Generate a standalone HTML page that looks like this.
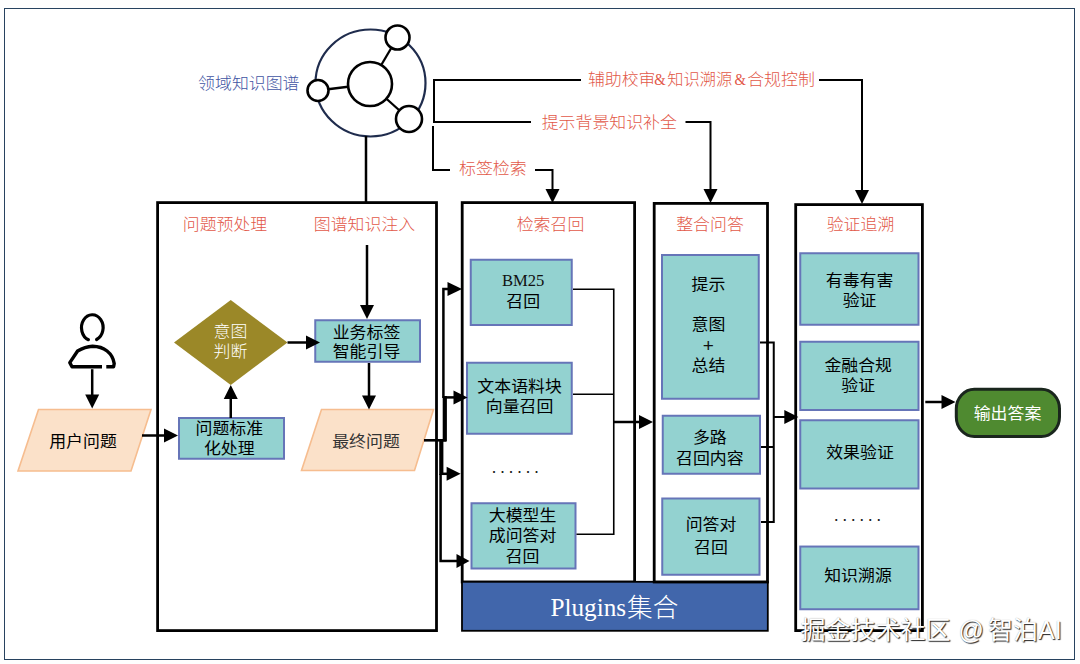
<!DOCTYPE html>
<html lang="zh-CN">
<head>
<meta charset="utf-8">
<title>知识图谱增强问答流程</title>
<style>
html,body{margin:0;padding:0;background:#fff;}
body{width:1080px;height:664px;overflow:hidden;}
svg{display:block;}
.t{font-family:"Liberation Sans", "Noto Sans CJK SC", sans-serif;font-weight:400;}
.tl{font-family:"Liberation Sans", "Noto Sans CJK SC", sans-serif;font-weight:300;}
.s{font-family:"Liberation Serif", "Noto Serif CJK SC", serif;font-weight:400;}
.p{font-family:"Liberation Sans",sans-serif;font-weight:400;}
.d{font-family:"Liberation Sans",sans-serif;font-weight:400;}
.w{font-family:"Liberation Sans", "Noto Sans CJK SC", sans-serif;font-weight:400;font-size:25px;line-height:30px;color:#fff;position:absolute;top:615px;white-space:nowrap;text-shadow:1px 1px 1px rgba(0,0,0,.85),0 0 1px rgba(0,0,0,.35);}
#stage{position:relative;width:1080px;height:664px;}
</style>
</head>
<body>
<div id="stage">
<svg width="1080" height="664" viewBox="0 0 1080 664">
<rect x="0" y="0" width="1080" height="664" fill="#fefefe"/>
<rect x="4.5" y="8.5" width="1070" height="651" fill="#fff" stroke="#27425f" stroke-width="1"/>
<ellipse cx="370.5" cy="83" rx="55" ry="53.5" fill="none" stroke="#1f2c4d" stroke-width="2.2"/>
<line x1="370" y1="84" x2="397.5" y2="37.5" stroke="#000" stroke-width="2.3"/>
<line x1="370" y1="84" x2="318" y2="90.5" stroke="#000" stroke-width="2.3"/>
<line x1="370" y1="84" x2="409" y2="119" stroke="#000" stroke-width="2.3"/>
<circle cx="370" cy="84" r="22" fill="#fff" stroke="#000" stroke-width="2.6"/>
<circle cx="397.5" cy="37.5" r="12" fill="#fff" stroke="#000" stroke-width="2.6"/>
<circle cx="318" cy="90.5" r="10.5" fill="#fff" stroke="#000" stroke-width="2.6"/>
<circle cx="409" cy="119" r="13" fill="#fff" stroke="#000" stroke-width="2.6"/>
<text transform="translate(299.5,88.85) scale(1.07,1)" class="tl" fill="#3f55a3" font-size="15.8" text-anchor="end">领域知识图谱</text>
<polyline points="366,136 366,203" fill="none" stroke="#000" stroke-width="2.5" stroke-linejoin="miter"/>
<polyline points="581,80 434,80 434,122 531,122" fill="none" stroke="#000" stroke-width="2" stroke-linejoin="miter"/>
<polyline points="433,126 433,170 450,170" fill="none" stroke="#000" stroke-width="2" stroke-linejoin="miter"/>
<text transform="translate(459,174.45) scale(1.07,1)" class="tl" fill="#e25848" font-size="15.8" text-anchor="start">标签检索</text>
<text transform="translate(541.7,127.75) scale(1.07,1)" class="tl" fill="#e25848" font-size="15.8" text-anchor="start">提示背景知识补全</text>
<text transform="translate(587.9,85.45) scale(1.07,1)" class="tl" fill="#e25848" font-size="15.8" text-anchor="start">辅助校审</text>
<text transform="translate(654.2,85.4) scale(0.84,1)" class="s" fill="#e25848" font-size="17.5">&amp;</text>
<text transform="translate(667.3,85.45) scale(1.03,1)" class="tl" fill="#e25848" font-size="15.8" text-anchor="start">知识溯源</text>
<text transform="translate(734.4,85.4) scale(0.84,1)" class="s" fill="#e25848" font-size="17.5">&amp;</text>
<text transform="translate(747.2,85.45) scale(1.07,1)" class="tl" fill="#e25848" font-size="15.8" text-anchor="start">合规控制</text>
<path d="M88.4,339.7 A10.8,12.9 0 1 1 96.6,339.5" fill="none" stroke="#000" stroke-width="3.2" stroke-linecap="round"/>
<path d="M102,366.8 L72,366.8 L69.8,362.6 L77.6,351 Q85,346.6 92.6,346.2 C104,346.4 112.6,353 114.2,363.5 L113.6,366.8 L106.3,366.8" fill="none" stroke="#000" stroke-width="3.4" stroke-linejoin="round"/>
<polygon points="38.5,409.5 151,409.5 131,471 18,471" fill="#fbe1c9" stroke="#f6bd8f" stroke-width="1.6"/>
<text transform="translate(83,447.35) scale(1.07,1)" class="t" fill="#000" font-size="15.8" text-anchor="middle">用户问题</text>
<rect x="157.6" y="202.6" width="278.9" height="428" fill="none" stroke="#000" stroke-width="2.8"/>
<text transform="translate(225,230.35) scale(1.07,1)" class="tl" fill="#e25848" font-size="15.8" text-anchor="middle">问题预处理</text>
<text transform="translate(364.5,230.35) scale(1.07,1)" class="tl" fill="#e25848" font-size="15.8" text-anchor="middle">图谱知识注入</text>
<polygon points="230.75,300 287.5,342.5 230.75,385 174,342.5" fill="#9b8828"/>
<text transform="translate(230.5,336.85) scale(1.07,1)" class="tl" fill="#fff" font-size="15.8" text-anchor="middle">意图</text>
<text transform="translate(230.5,357.35) scale(1.07,1)" class="tl" fill="#fff" font-size="15.8" text-anchor="middle">判断</text>
<rect x="179.0" y="418.0" width="105.0" height="40.75" fill="#93d2d0" stroke="#6675b8" stroke-width="2"/>
<text transform="translate(229.3,433.85) scale(1.07,1)" class="t" fill="#000" font-size="15.8" text-anchor="middle">问题标准</text>
<text transform="translate(229.3,454.05) scale(1.07,1)" class="t" fill="#000" font-size="15.8" text-anchor="middle">化处理</text>
<rect x="315.25" y="320.25" width="104.75" height="41.5" fill="#93d2d0" stroke="#6675b8" stroke-width="2"/>
<text transform="translate(366.5,338.05) scale(1.07,1)" class="t" fill="#000" font-size="15.8" text-anchor="middle">业务标签</text>
<text transform="translate(366.5,357.45) scale(1.07,1)" class="t" fill="#000" font-size="15.8" text-anchor="middle">智能引导</text>
<polygon points="321.5,409.5 433.5,409.5 414.5,470.5 301.5,470.5" fill="#fbe1c9" stroke="#f6bd8f" stroke-width="1.6"/>
<text transform="translate(366,447.35) scale(1.07,1)" class="t" fill="#333" font-size="15.8" text-anchor="middle">最终问题</text>
<polyline points="424,440.3 446,440.3" fill="none" stroke="#000" stroke-width="2.6" stroke-linejoin="miter"/>
<polyline points="444.8,441.5 444.8,396" fill="none" stroke="#000" stroke-width="4.2" stroke-linejoin="miter"/>
<polyline points="441.3,439 441.3,475" fill="none" stroke="#000" stroke-width="4.2" stroke-linejoin="miter"/>
<rect x="462.2" y="202.6" width="172.4" height="379.4" fill="none" stroke="#000" stroke-width="2.8"/>
<text transform="translate(550.5,230.35) scale(1.07,1)" class="tl" fill="#e25848" font-size="15.8" text-anchor="middle">检索召回</text>
<rect x="470.75" y="259.75" width="101.0" height="65.25" fill="#93d2d0" stroke="#6675b8" stroke-width="2"/>
<text x="523.2" y="286.1" class="s" fill="#111" font-size="16.6" text-anchor="middle">BM25</text>
<text transform="translate(523.2,307.05) scale(1.07,1)" class="t" fill="#000" font-size="15.8" text-anchor="middle">召回</text>
<rect x="467.0" y="362.75" width="104.75" height="71.0" fill="#93d2d0" stroke="#6675b8" stroke-width="2"/>
<text transform="translate(519.6,392.15) scale(1.07,1)" class="t" fill="#000" font-size="15.8" text-anchor="middle">文本语料块</text>
<text transform="translate(519.6,412.15) scale(1.07,1)" class="t" fill="#000" font-size="15.8" text-anchor="middle">向量召回</text>
<text x="491.5" y="473" class="d" fill="#222" font-size="18" letter-spacing="3.5">......</text>
<rect x="471.5" y="503.25" width="104.0" height="65.25" fill="#93d2d0" stroke="#6675b8" stroke-width="2"/>
<text transform="translate(522.6,520.85) scale(1.07,1)" class="t" fill="#000" font-size="15.8" text-anchor="middle">大模型生</text>
<text transform="translate(522.6,541.35) scale(1.07,1)" class="t" fill="#000" font-size="15.8" text-anchor="middle">成问答对</text>
<text transform="translate(522.6,562.15) scale(1.07,1)" class="t" fill="#000" font-size="15.8" text-anchor="middle">召回</text>
<polyline points="573,289.3 613.75,289.3 613.75,534.3 576.5,534.3" fill="none" stroke="#000" stroke-width="1.6" stroke-linejoin="miter"/>
<polyline points="573,394.3 613.75,394.3" fill="none" stroke="#000" stroke-width="1.6" stroke-linejoin="miter"/>
<rect x="462" y="581.8" width="305.8" height="49" fill="#4166ab" stroke="#000" stroke-width="1.8"/>
<text x="550.5" y="616.2" class="s" fill="#fff" font-size="25.2" text-anchor="start">Plugins<tspan class="tl" font-size="25.6" dx="1" dy="0.8">集合</tspan></text>
<rect x="654.2" y="203.4" width="113.3" height="378.6" fill="none" stroke="#000" stroke-width="2.8"/>
<text transform="translate(710,230.35) scale(1.07,1)" class="tl" fill="#e25848" font-size="15.8" text-anchor="middle">整合问答</text>
<rect x="662.0" y="255.0" width="96.75" height="143.75" fill="#93d2d0" stroke="#6675b8" stroke-width="2"/>
<text transform="translate(708.4,290.05) scale(1.07,1)" class="t" fill="#000" font-size="15.8" text-anchor="middle">提示</text>
<text transform="translate(708.4,330.05) scale(1.07,1)" class="t" fill="#000" font-size="15.8" text-anchor="middle">意图</text>
<text x="708.4" y="351.7" class="p" fill="#111" font-size="19" text-anchor="middle">+</text>
<text transform="translate(708.4,371.05) scale(1.07,1)" class="t" fill="#000" font-size="15.8" text-anchor="middle">总结</text>
<rect x="662.75" y="415.75" width="97.25" height="58.0" fill="#93d2d0" stroke="#6675b8" stroke-width="2"/>
<text transform="translate(709.8,443.45) scale(1.07,1)" class="t" fill="#000" font-size="15.8" text-anchor="middle">多路</text>
<text transform="translate(709.8,464.25) scale(1.07,1)" class="t" fill="#000" font-size="15.8" text-anchor="middle">召回内容</text>
<rect x="662.25" y="498.5" width="97.25" height="76.25" fill="#93d2d0" stroke="#6675b8" stroke-width="2"/>
<text transform="translate(711,530.45) scale(1.07,1)" class="t" fill="#000" font-size="15.8" text-anchor="middle">问答对</text>
<text transform="translate(711,552.85) scale(1.07,1)" class="t" fill="#000" font-size="15.8" text-anchor="middle">召回</text>
<polyline points="760,342.5 773.75,342.5 773.75,522 761,522" fill="none" stroke="#000" stroke-width="2" stroke-linejoin="miter"/>
<polyline points="761,447 773.75,447" fill="none" stroke="#000" stroke-width="2" stroke-linejoin="miter"/>
<rect x="795.7" y="204.6" width="126.7" height="426" fill="none" stroke="#000" stroke-width="2.8"/>
<text transform="translate(860.5,230.35) scale(1.07,1)" class="tl" fill="#e25848" font-size="15.8" text-anchor="middle">验证追溯</text>
<rect x="800.25" y="253.25" width="118.25" height="71.5" fill="#93d2d0" stroke="#6675b8" stroke-width="2"/>
<text transform="translate(859.6,286.45) scale(1.07,1)" class="t" fill="#000" font-size="15.8" text-anchor="middle">有毒有害</text>
<text transform="translate(859.6,306.05) scale(1.07,1)" class="t" fill="#000" font-size="15.8" text-anchor="middle">验证</text>
<rect x="800.25" y="341.75" width="118.25" height="68.25" fill="#93d2d0" stroke="#6675b8" stroke-width="2"/>
<text transform="translate(858.2,371.05) scale(1.07,1)" class="t" fill="#000" font-size="15.8" text-anchor="middle">金融合规</text>
<text transform="translate(858.2,391.05) scale(1.07,1)" class="t" fill="#000" font-size="15.8" text-anchor="middle">验证</text>
<rect x="800.25" y="420.25" width="118.25" height="68.25" fill="#93d2d0" stroke="#6675b8" stroke-width="2"/>
<text transform="translate(860,457.65) scale(1.07,1)" class="t" fill="#000" font-size="15.8" text-anchor="middle">效果验证</text>
<text x="833.7" y="521" class="d" fill="#222" font-size="18" letter-spacing="3.5">......</text>
<rect x="800.25" y="546.55" width="118.25" height="62.700000000000045" fill="#93d2d0" stroke="#6675b8" stroke-width="2"/>
<text transform="translate(858,581.05) scale(1.07,1)" class="t" fill="#000" font-size="15.8" text-anchor="middle">知识溯源</text>
<rect x="956.3" y="389.3" width="103.2" height="47.2" rx="18" ry="19.5" fill="#4f8a30" stroke="#1a261d" stroke-width="3"/>
<text transform="translate(1007.5,419.05) scale(1.07,1)" class="t" fill="#fff" font-size="15.8" text-anchor="middle">输出答案</text>
<polyline points="535,170 552.5,170 552.5,190" fill="none" stroke="#000" stroke-width="2" stroke-linejoin="miter"/>
<polygon points="552.5,203 545.5,189 559.5,189" fill="#000"/>
<polyline points="685.5,122 710.5,122 710.5,190" fill="none" stroke="#000" stroke-width="2" stroke-linejoin="miter"/>
<polygon points="710.5,203 703.5,189 717.5,189" fill="#000"/>
<polyline points="819,80 862,80 862,191" fill="none" stroke="#000" stroke-width="2" stroke-linejoin="miter"/>
<polygon points="862,204 855,190 869,190" fill="#000"/>
<polyline points="92.2,369.2 92.2,395.5" fill="none" stroke="#000" stroke-width="2.5" stroke-linejoin="miter"/>
<polygon points="92.2,408.5 85.2,394.5 99.2,394.5" fill="#000"/>
<polyline points="142,435.5 165,435.5" fill="none" stroke="#000" stroke-width="2.5" stroke-linejoin="miter"/>
<polygon points="178,435.5 164,442.5 164,428.5" fill="#000"/>
<polyline points="367,245 367,306" fill="none" stroke="#000" stroke-width="2.5" stroke-linejoin="miter"/>
<polygon points="367,319 360,305 374,305" fill="#000"/>
<polyline points="230.75,418 230.75,398" fill="none" stroke="#000" stroke-width="2.5" stroke-linejoin="miter"/>
<polygon points="230.75,385 237.75,399 223.75,399" fill="#000"/>
<polyline points="287.5,342.5 307,342.5" fill="none" stroke="#000" stroke-width="2.5" stroke-linejoin="miter"/>
<polygon points="320,342.5 306,349.5 306,335.5" fill="#000"/>
<polyline points="369,363 369,396.5" fill="none" stroke="#000" stroke-width="2.5" stroke-linejoin="miter"/>
<polygon points="369,409.5 362,395.5 376,395.5" fill="#000"/>
<polyline points="443.4,398 443.4,289 448.5,289" fill="none" stroke="#000" stroke-width="2.5" stroke-linejoin="miter"/>
<polygon points="462,289 447.5,296 447.5,282" fill="#000"/>
<polyline points="445,397.4 454.5,397.4" fill="none" stroke="#000" stroke-width="2.5" stroke-linejoin="miter"/>
<polygon points="467.5,397.4 453.5,404.4 453.5,390.4" fill="#000"/>
<polyline points="441,473.8 447.6,473.8" fill="none" stroke="#000" stroke-width="2.5" stroke-linejoin="miter"/>
<polygon points="460.6,473.8 446.6,480.8 446.6,466.8" fill="#000"/>
<polyline points="440.6,474 440.6,561 457.5,561" fill="none" stroke="#000" stroke-width="2.5" stroke-linejoin="miter"/>
<polygon points="469.5,561 456.5,568 456.5,554" fill="#000"/>
<polyline points="613,422 640,422" fill="none" stroke="#000" stroke-width="2.5" stroke-linejoin="miter"/>
<polygon points="653,422 639,429 639,415" fill="#000"/>
<polyline points="773,417 785.3,417" fill="none" stroke="#000" stroke-width="2" stroke-linejoin="miter"/>
<polygon points="798.3,417 784.3,424 784.3,410" fill="#000"/>
<polyline points="925.3,402 942.5,402" fill="none" stroke="#000" stroke-width="2.5" stroke-linejoin="miter"/>
<polygon points="955.5,402 941.5,409 941.5,395" fill="#000"/>
</svg>
<div class="w" style="left:800.5px">掘金技术社区</div>
<div class="w" style="left:958.5px">@</div>
<div class="w" style="left:988px">智泊AI</div>
</div>
</body>
</html>
